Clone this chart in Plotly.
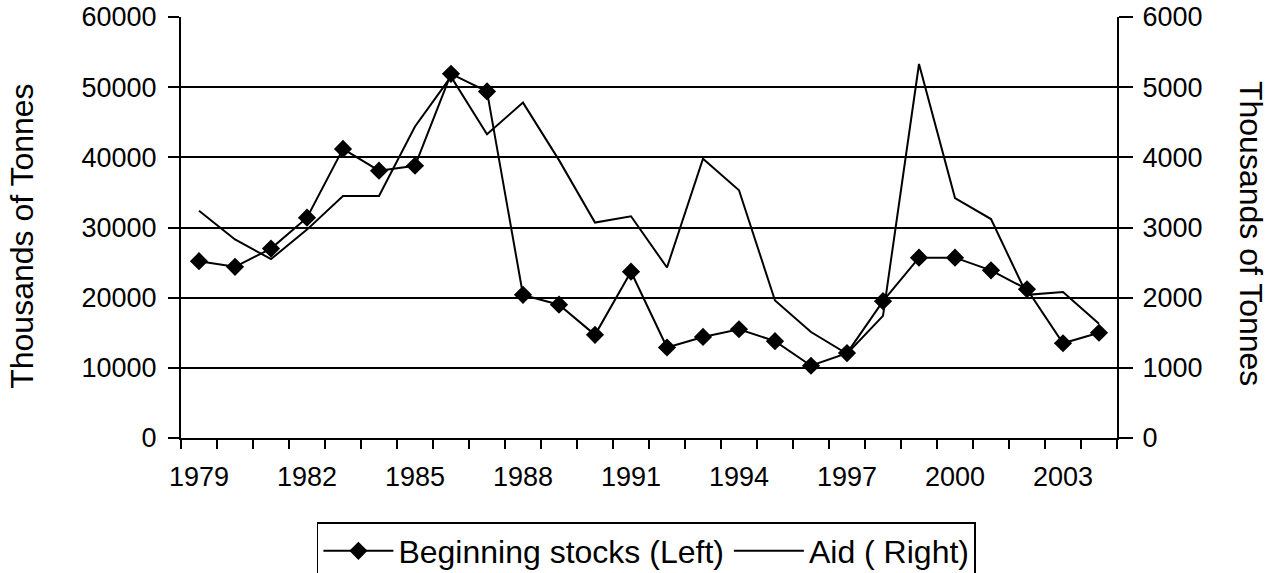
import plotly.graph_objects as go

years = list(range(1979, 2005))
beginning_stocks = [25200, 24400, 27000, 31400, 41200, 38100, 38800, 51900, 49400,
                    20400, 19000, 14700, 23700, 12900, 14400, 15500, 13800, 10300,
                    12100, 19500, 25700, 25700, 23900, 21200, 13500, 15000]
aid = [3240, 2830, 2550, 2970, 3450, 3450, 4440, 5150, 4330,
       4780, 3960, 3070, 3160, 2430, 3980, 3530, 1960, 1510,
       1200, 1740, 5330, 3420, 3120, 2040, 2080, 1630]
label_years = [1979, 1982, 1985, 1988, 1991, 1994, 1997, 2000, 2003]
left_ticks = [0, 10000, 20000, 30000, 40000, 50000, 60000]
right_ticks = [0, 1000, 2000, 3000, 4000, 5000, 6000]
y_title = "Thousands of Tonnes"

FONT = "Liberation Sans, Arial, sans-serif"

fig = go.Figure()
fig.add_trace(go.Scatter(
    x=years, y=beginning_stocks, name="Beginning stocks (Left)",
    mode="lines+markers",
    line=dict(color="black", width=2),
    marker=dict(symbol="diamond", size=14, color="black"),
    yaxis="y",
))
fig.add_trace(go.Scatter(
    x=years, y=aid, name="Aid ( Right)",
    mode="lines",
    line=dict(color="black", width=2),
    yaxis="y2",
))

boundaries = [y - 0.5 for y in years] + [years[-1] + 0.5]

fig.update_layout(
    width=1275, height=573,
    paper_bgcolor="white", plot_bgcolor="white",
    margin=dict(l=181, r=158, t=17, b=135, autoexpand=False),
    font=dict(family=FONT, color="black", size=27),
    showlegend=True,
    xaxis=dict(
        range=[1978.5, 2004.5],
        tickmode="array", tickvals=label_years,
        ticktext=[str(v) for v in label_years],
        ticks="", showgrid=False, zeroline=False, automargin=False,
        showline=True, linecolor="black", linewidth=2,
        ticklabelstandoff=14,
        tickfont=dict(size=27),
        minor=dict(tickmode="array", tickvals=boundaries, ticks="outside",
                   ticklen=9, tickwidth=2, tickcolor="black", showgrid=False),
    ),
    yaxis=dict(
        range=[0, 60000], tickmode="array", tickvals=left_ticks,
        ticktext=[str(v) for v in left_ticks],
        ticks="outside", ticklen=11, tickwidth=2, tickcolor="black",
        showgrid=True, gridcolor="black", gridwidth=1.5,
        zeroline=False, automargin=False,
        showline=True, linecolor="black", linewidth=2,
        ticklabelstandoff=6,
        tickfont=dict(size=27),
    ),
    yaxis2=dict(
        range=[0, 6000], tickmode="array", tickvals=right_ticks,
        ticktext=[str(v) for v in right_ticks],
        overlaying="y", side="right",
        ticks="outside", ticklen=14, tickwidth=2, tickcolor="black",
        showgrid=False, zeroline=False, automargin=False,
        showline=True, linecolor="black", linewidth=2,
        ticklabelstandoff=4,
        tickfont=dict(size=27),
    ),
    legend=dict(
        orientation="h", xref="container", yref="container",
        x=0.507, xanchor="center", y=1 - 522 / 573, yanchor="top",
        bordercolor="black", borderwidth=1.5, bgcolor="white",
        font=dict(size=32), itemwidth=70,
    ),
    annotations=[
        dict(text=y_title, xref="paper", yref="paper", x=-0.17, y=0.48,
             textangle=-90, showarrow=False, font=dict(size=32),
             xanchor="center", yanchor="middle"),
        dict(text=y_title, xref="paper", yref="paper", x=1.143, y=0.485,
             textangle=90, showarrow=False, font=dict(size=32),
             xanchor="center", yanchor="middle"),
    ],
)

fig.write_html("out.html", post_script="document.body.style.margin='0';",
               config={"displayModeBar": False})
